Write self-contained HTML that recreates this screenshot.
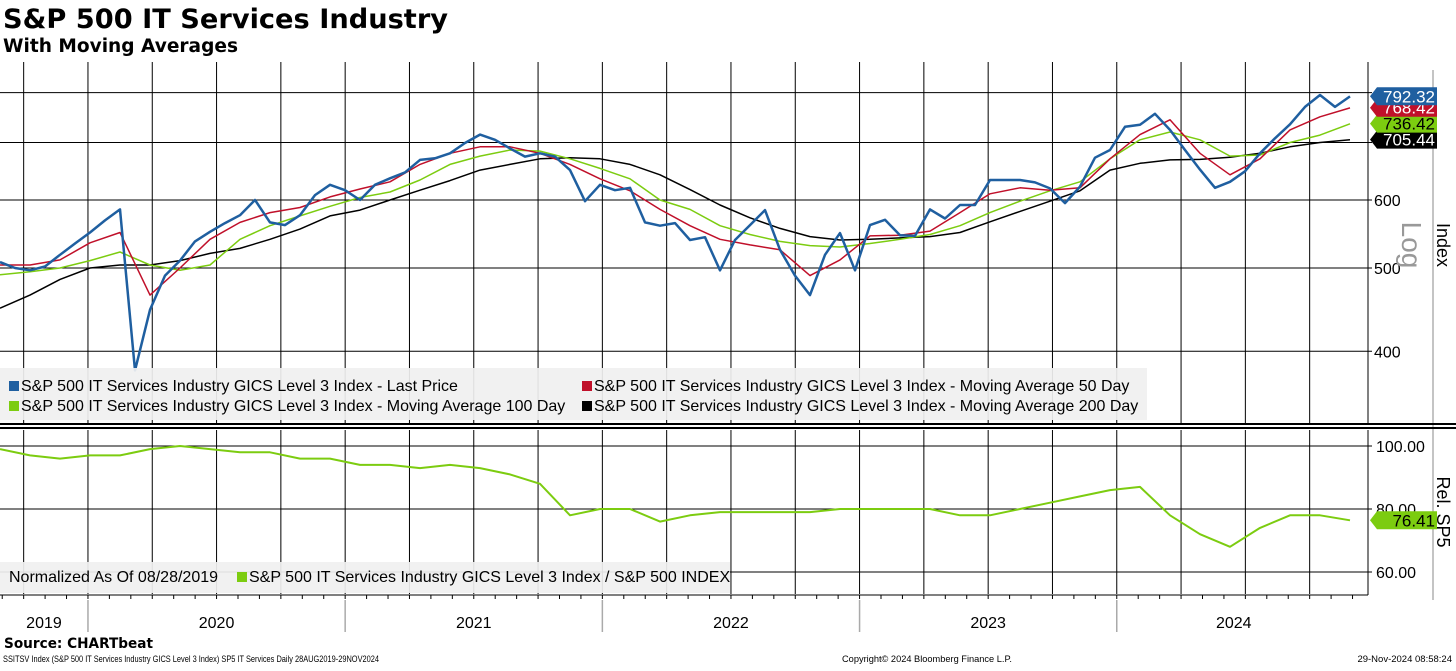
<!DOCTYPE html>
<html><head><meta charset="utf-8">
<style>
html,body{margin:0;padding:0;background:#fff;}
body{width:1456px;height:666px;overflow:hidden;position:relative;font-family:"Liberation Sans","DejaVu Sans",sans-serif;}
svg text{font-family:"Liberation Sans","DejaVu Sans",sans-serif;}
</style></head>
<body>
<svg id="chart" width="1456" height="666" viewBox="0 0 1456 666" xmlns="http://www.w3.org/2000/svg">
<text x="3" y="28" font-size="27" font-weight="bold" fill="#000" textLength="445" lengthAdjust="spacingAndGlyphs" style="font-family:'DejaVu Sans',sans-serif">S&amp;P 500 IT Services Industry</text>
<text x="3" y="52" font-size="18.5" font-weight="bold" fill="#000" textLength="235" lengthAdjust="spacingAndGlyphs" style="font-family:'DejaVu Sans',sans-serif">With Moving Averages</text>
<g id="grid"></g>
<g id="series"></g>
<g id="overlay"></g>
<text x="4" y="648" font-size="14" font-weight="bold" fill="#000" textLength="149" lengthAdjust="spacingAndGlyphs" style="font-family:'DejaVu Sans',sans-serif">Source: CHARTbeat</text>
<text x="3" y="662" font-size="9.5" fill="#000" textLength="376" lengthAdjust="spacingAndGlyphs">SSITSV Index (S&amp;P 500 IT Services Industry GICS Level 3 Index) SP5 IT Services  Daily 28AUG2019-29NOV2024</text>
<text x="842" y="662" font-size="9.5" fill="#000" textLength="170" lengthAdjust="spacingAndGlyphs">Copyright© 2024 Bloomberg Finance L.P.</text>
<text x="1452" y="662" font-size="9.5" fill="#000" text-anchor="end">29-Nov-2024 08:58:24</text>
</svg>
<script>
// ---- data ----
const startYear = 2019.658;
const priceStepYears = 15/257.2;
const maStepYears = 30/257.2;
const price = [508,500,497,502,518,534,550,568,585,380,447,490,510,537,551,564,576,600,565,561,576,608,625,616,600,625,636,646,668,671,680,699,715,705,689,674,680,674,650,598,625,616,620,565,560,564,539,543,497,539,561,584,525,490,465,518,549,497,561,569,546,545,585,571,592,592,633,633,633,629,619,595,622,672,686,730,734,756,724,686,651,620,630,648,680,708,735,770,795,770,792];
const ma50 = [504,504,511,535,550,465,500,540,565,580,588,605,618,630,660,680,692,692,680,660,635,615,585,560,540,532,525,490,511,545,546,552,580,610,620,616,620,670,715,744,680,642,670,724,750,768];
const ma100 = [491,495,500,510,522,504,497,504,540,560,575,590,604,613,633,660,675,686,684,670,653,635,600,585,560,547,537,531,529,534,540,547,560,580,598,615,630,670,705,720,705,675,677,700,714,736];
const ma200 = [449,465,485,500,504,504,510,520,527,540,555,575,584,600,616,632,650,660,670,672,670,660,642,617,592,572,556,544,539,540,542,544,550,566,582,598,615,650,662,668,669,673,680,692,700,705];
const rel = [99,97,96,97,97,99,100,99,98,98,96,96,94,94,93,94,93,91,88,78,80,80,76,78,79,79,79,79,80,80,80,80,78,78,80,82,84,86,87,78,72,68,74,78,78,76.4];
const priceTicks = [400,500,600,700,800];
const priceTickLabels = ["400","500","600","",""];
const relTicks = [60,80,100];
const relTickLabels = ["60.00","80.00","100.00"];
const years = [2019,2020,2021,2022,2023,2024];
const lastLabels = ["792.32","768.42","736.42","705.44"];
const lastValues = [792.32,768.42,736.42,705.44];
const relLast = 76.41;

// ---- scales ----
const X0=0, PX_PER_YEAR=257.2;
function xs(t){return X0+(t-startYear)*PX_PER_YEAR;}
function yPrice(v){return 200-859*Math.log10(v/600);}
function yRel(v){return 446+(100-v)*3.15;}
const NS="http://www.w3.org/2000/svg";
function mk(tag,attrs,parent){const e=document.createElementNS(NS,tag);for(const k in attrs)e.setAttribute(k,attrs[k]);parent.appendChild(e);return e;}
const grid=document.getElementById('grid'), ser=document.getElementById('series'), ov=document.getElementById('overlay');
const PR=1368;

for(let t=2019.75;t<2025;t+=0.25){
  const x=xs(t);
  const l1=mk('line',{x1:x,y1:62,x2:x,y2:424,stroke:'#000','stroke-width':1},grid);
  
  
  const l2=mk('line',{x1:x,y1:430,x2:x,y2:594,stroke:'#000','stroke-width':1},grid);
  
  
}
priceTicks.forEach((v,i)=>{
  const y=yPrice(v);
  const l=mk('line',{x1:0,y1:y,x2:PR+4,y2:y,stroke:'#000','stroke-width':1},grid);
  
  
  if(priceTickLabels[i]){
    const t=mk('text',{x:PR+6,y:y+6,'font-size':16,fill:'#000'},grid);t.textContent=priceTickLabels[i];
    
    
  }
});
relTicks.forEach((v,i)=>{
  const y=yRel(v);
  const l=mk('line',{x1:0,y1:y,x2:PR+4,y2:y,stroke:'#000','stroke-width':1},grid);
  
  
  const t=mk('text',{x:PR+8,y:y+6,'font-size':16,fill:'#000'},grid);t.textContent=relTickLabels[i];
  
  
});
[[PR,62,PR,425],[PR,430,PR,595],[0,595,PR,595],[1433,70,1433,600]].forEach(a=>{
  const l=mk('line',{x1:a[0],y1:a[1],x2:a[2],y2:a[3],stroke:a[0]===1433?'#888':'#000','stroke-width':1},grid);
  
  
});
mk('rect',{x:0,y:423,width:1456,height:2,fill:'#000'},grid);
mk('rect',{x:0,y:427,width:1456,height:2,fill:'#000'},grid);
for(let m=0;m<64;m++){
  const t=2019+8/12+m/12; if(t<startYear)continue; const x=xs(t); if(x>PR)break;
  const l=mk('line',{x1:x,y1:595,x2:x,y2:599,stroke:'#000'},grid);
  
  
}
years.forEach(yr=>{
  if(yr>2019){const x=xs(yr);
    const l=mk('line',{x1:x,y1:600,x2:x,y2:632,stroke:'#aaa','stroke-width':1.5},grid);
    
    }
  const a=Math.max(startYear,yr), b=Math.min(2024.91,yr+1);
  const t=mk('text',{x:(xs(a)+xs(b))/2,y:628,'font-size':16,'text-anchor':'middle',fill:'#000'},grid);
  t.textContent=String(yr);
  
  
});

function line(arr,step,yf,color,w,name){
  const d=arr.map((v,i)=>(i?'L':'M')+xs(startYear+i*step).toFixed(1)+','+yf(v).toFixed(1)).join('');
  const p=mk('path',{d:d,fill:'none',stroke:color,'stroke-width':w,'stroke-linejoin':'round'},ser);
  
  
}
line(ma200,maStepYears,yPrice,'#000',1.5,'ma200-line');
line(ma100,maStepYears,yPrice,'#7ccc10',1.5,'ma100-line');
line(ma50,maStepYears,yPrice,'#c0102a',1.5,'ma50-line');
line(price,priceStepYears,yPrice,'#1f5fa0',2.5,'price-line');
line(rel,maStepYears,yRel,'#7ccc10',2,'relative-line');

function legend(x,y,w,h,name){const r=mk('rect',{x:x,y:y,width:w,height:h,fill:'#f0f0f0','fill-opacity':0.92},ov);}
legend(0,368,1147,52,'price-legend');
legend(0,562,730,31,'relative-legend');
function entry(x,y,color,txt){
  const g=mk('g',{},ov);
  
  
  if(color) mk('rect',{x:x,y:y-10,width:10,height:10,fill:color},g);
  const t=mk('text',{x:x+(color?12:0),y:y,'font-size':16,fill:'#000'},g);t.textContent=txt;
}
entry(9,391,'#1f5fa0','S&P 500 IT Services Industry GICS Level 3 Index - Last Price');
entry(582,391,'#c0102a','S&P 500 IT Services Industry GICS Level 3 Index - Moving Average 50 Day');
entry(9,411,'#7ccc10','S&P 500 IT Services Industry GICS Level 3 Index - Moving Average 100 Day');
entry(582,411,'#000','S&P 500 IT Services Industry GICS Level 3 Index - Moving Average 200 Day');
entry(9,582,null,'Normalized As Of 08/28/2019');
entry(237,582,'#7ccc10','S&P 500 IT Services Industry GICS Level 3 Index / S&P 500 INDEX');

const tagColors=['#1f5fa0','#c0102a','#7ccc10','#000'];
const tagText=['#fff','#fff','#000','#fff'];
function tag(v,y,bg,fg){
  const g=mk('g',{},ov);
  
  
  mk('path',{d:`M${PR+2},${y} L${PR+9},${y-9} L1437,${y-9} L1437,${y+9} L${PR+9},${y+9} Z`,fill:bg},g);
  const t=mk('text',{x:1435,y:y+6,'font-size':17,'text-anchor':'end',fill:fg},g);t.textContent=v;
}
for(let i=3;i>=0;i--) tag(lastLabels[i],yPrice(lastValues[i]),tagColors[i],tagText[i]);
tag(relLast.toFixed(2),yRel(relLast),'#7ccc10','#000');

function vt(x,y,txt,size,color,name){
  const t=mk('text',{x:x,y:y,'font-size':size,fill:color,'text-anchor':'middle',transform:`rotate(90 ${x} ${y})`},ov);
  t.textContent=txt;
  
  
}
vt(1402,245,'Log',28,'#999','log-scale-label');
vt(1437,245,'Index',18,'#000','y-axis-title');
vt(1437,512,'Rel. SP5',18,'#000','rel-axis-title');
</script>
</body></html>
